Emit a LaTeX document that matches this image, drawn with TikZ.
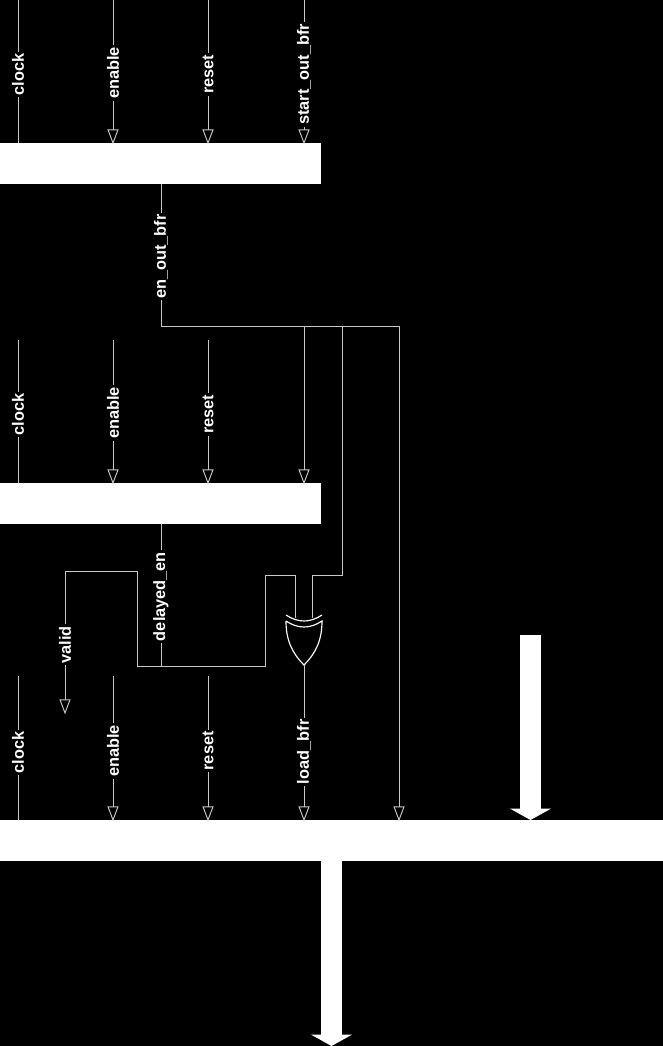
\documentclass[tikz,border=0pt]{standalone}
\usepackage{fontspec}
\setmainfont{Liberation Sans}
\usetikzlibrary{arrows.meta, positioning, calc}
\definecolor{wireGrey}{HTML}{C8C8C8}

\begin{document}
\begin{tikzpicture}[
    x=0.02cm, y=-0.02cm,
    block/.style={fill=white, minimum height=0.81cm, inner sep=0pt, anchor=north west},
    wire/.style={draw=wireGrey, line width=0.55pt},
    arrow/.style={wire, shorten >=-0.8pt, -{Triangle[open, length=0.3cm, width=0.22cm]}},
    bus/.style={draw=white, line width=0.42cm, -{Triangle[length=0.23cm, width=0.82cm, fill=white]}},
    signal/.style={rotate=90, fill=black, text=white, inner sep=1pt,
                   font=\fontsize{9.3}{11}\selectfont\bfseries},
    gate/.style={draw=white, line width=0.65pt},
]
\fill[black] (0,0) rectangle (663,1046);
\useasboundingbox (0,0) rectangle (663,1046);

\node[block, minimum width=6.42cm] (ctrlA) at (0,143) {};
\node[block, minimum width=6.42cm] (ctrlB) at (0,483) {};
\node[block, minimum width=13.26cm] (bufr) at (0,820) {};

% first row
\coordinate (clockA) at (18,0);
\coordinate (enableA) at (113,0);
\coordinate (resetA) at (208,0);
\coordinate (startA) at (304,0);
\draw[wire] (clockA) -- node[signal, pos=.52] {clock} (clockA |- ctrlA.north);
\draw[arrow] (enableA) -- node[signal, pos=.51] {enable} (enableA |- ctrlA.north);
\draw[arrow] (resetA) -- node[signal, pos=.52] {reset} (resetA |- ctrlA.north);
\draw[arrow] (startA) -- node[signal, pos=.52] {start\_out\_bfr} (startA |- ctrlA.north);

% second row
\coordinate (clockB) at (18,340);
\coordinate (enableB) at (113,340);
\coordinate (resetB) at (208,340);
\draw[wire] (clockB) -- node[signal, pos=.52] {clock} (clockB |- ctrlB.north);
\draw[arrow] (enableB) -- node[signal, pos=.51] {enable} (enableB |- ctrlB.north);
\draw[arrow] (resetB) -- node[signal, pos=.52] {reset} (resetB |- ctrlB.north);

% third row
\coordinate (clockC) at (18,676);
\coordinate (enableC) at (113,676);
\coordinate (resetC) at (208,676);
\draw[wire] (clockC) -- node[signal, pos=.53] {clock} (clockC |- bufr.north);
\draw[arrow] (enableC) -- node[signal, pos=.52] {enable} (enableC |- bufr.north);
\draw[arrow] (resetC) -- node[signal, pos=.52] {reset} (resetC |- bufr.north);

% en_out_bfr net
\coordinate (enOut) at (161,326);
\coordinate (enFar) at (399,326);
\coordinate (enTap) at (304,326);
\coordinate (enGate) at (342,326);
\draw[wire] (enOut |- ctrlA.south) -- node[signal, pos=.51] {en\_out\_bfr} (enOut) -- (enFar);
\draw[arrow] (enFar) -- (enFar |- bufr.north);
\draw[arrow] (enTap) -- (enTap |- ctrlB.north);

% xor gate
\coordinate (xorA) at (295,618);
\coordinate (xorB) at (312,618);
\coordinate (xorOut) at (304,665);
\draw[gate] (286,615) .. controls (298,623) and (310,623) .. (322,615);
\draw[gate] (286,621) .. controls (298,629) and (310,629) .. (322,621)
    .. controls (322,640) and (316,653) .. (xorOut)
    .. controls (292,653) and (286,640) .. (286,621);
\draw[wire] (enGate) -- (342,575) -- (312,575) -- (xorB);
\coordinate (delayTap) at (161,666);
\draw[wire] (xorA) -- (295,575) -- (265,575) -- (265,666) -- (137,666) -- (137,571) -- (65,571) coordinate (validTop);
\draw[wire] (delayTap |- ctrlB.south) -- node[signal, pos=.51] {delayed\_en} (delayTap);
\coordinate (validEnd) at (65,713);
\draw[arrow] (validTop) -- node[signal, pos=.52] {valid} (validEnd);
\draw[arrow] (xorOut) -- node[signal, pos=.56] {load\_bfr} (xorOut |- bufr.north);

% wide data arrows
\coordinate (dataIn) at (530.5,635);
\coordinate (dataOut) at (331.5,1046);
\draw[bus] (dataIn) -- (dataIn |- bufr.north);
\draw[bus] (dataOut |- bufr.south) -- (dataOut);
\end{tikzpicture}
\end{document}
